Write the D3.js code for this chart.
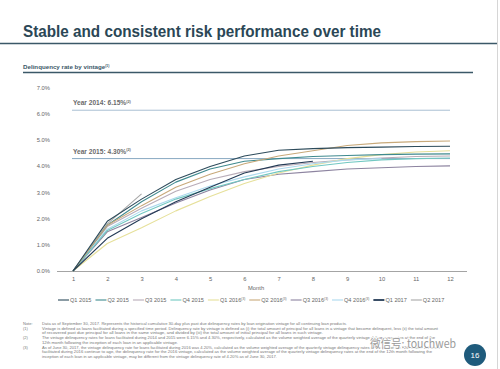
<!DOCTYPE html>
<html><head><meta charset="utf-8">
<script src="https://cdn.jsdelivr.net/npm/d3@7"></script>
<style>body{margin:0;background:#fff}svg{display:block}</style>
</head><body>
<svg id="c" width="500" height="369"></svg>
<script>
const months = [1,2,3,4,5,6,7,8,9,10,11,12];
const yTicks = [0,1,2,3,4,5,6,7];
const seriesNames = ["Q1 2015","Q2 2015","Q3 2015","Q4 2015","Q1 2016","Q2 2016","Q3 2016","Q4 2016","Q1 2017","Q2 2017"];
const seriesSup = ["","","","","(3)","(3)","(3)","(3)","",""];
const q1_2015 = [0,1.9,2.75,3.5,4.0,4.4,4.62,4.68,4.72,4.74,4.76,4.77];
const q2_2015 = [0,1.75,2.65,3.4,3.9,4.2,4.3,4.38,4.42,4.45,4.47,4.48];
const q3_2015 = [0,1.7,2.4,3.05,3.5,3.8,4.0,4.15,4.25,4.32,4.38,4.4];
const q4_2015 = [0,1.55,2.2,2.75,3.15,3.5,3.8,4.0,4.15,4.25,4.3,4.32];
const q1_2016 = [0,1.05,1.65,2.3,2.85,3.35,3.75,4.05,4.3,4.45,4.55,4.6];
const q2_2016 = [0,1.75,2.5,3.2,3.7,4.1,4.4,4.6,4.8,4.9,4.95,4.97];
const q3_2016 = [0,1.5,2.05,2.6,3.1,3.5,3.7,3.8,3.9,3.95,4.0,4.02];
const q4_2016 = [0,1.6,2.3,2.8,3.25,3.6,3.9,4.1,4.25,4.3];
const q1_2017 = [0,1.25,2.0,2.65,3.2,3.75,4.05,4.2];
const q2_2017 = [0,1.8,2.95];
const seriesValues = [q1_2015,q2_2015,q3_2015,q4_2015,q1_2016,q2_2016,q3_2016,q4_2016,q1_2017,q2_2017];
const colors = ["#2d4b5b","#3f8a8f","#b8acb8","#72c8c2","#e6e09a","#c8a97a","#8d84a0","#acd9ee","#233a55","#a8a8a8"];
const refLines = [{label:"Year 2014: 6.15%", sup:"(2)", value:6.15},{label:"Year 2015: 4.30%", sup:"(2)", value:4.30}];
const notes = [
 ["Note:", "Data as of September 30, 2017. Represents the historical cumulative 30-day plus past due delinquency rates by loan origination vintage for all continuing loan products.", 347],
 ["(1)", "Vintage is defined as loans facilitated during a specified time period. Delinquency rate by vintage is defined as (i) the total amount of principal for all loans in a vintage that become delinquent, less (ii) the total amount", 438],
 ["", "of recovered past due principal for all loans in the same vintage, and divided by (iii) the total amount of initial principal for all loans in such vintage.", 323],
 ["(2)", "The vintage delinquency rates for loans facilitated during 2014 and 2015 were 6.15% and 4.30%, respectively, calculated as the volume weighted average of the quarterly vintage delinquency rates at the end of the", 435],
 ["", "12th month following the inception of each loan in an applicable vintage.", 178],
 ["(3)", "As of June 30, 2017, the vintage delinquency rate for loans facilitated during 2016 was 4.20%, calculated as the volume weighted average of the quarterly vintage delinquency rates at the end of the 12th month. As loans", 440],
 ["", "facilitated during 2016 continue to age, the delinquency rate for the 2016 vintage, calculated as the volume weighted average of the quarterly vintage delinquency rates at the end of the 12th month following the", 432],
 ["", "inception of each loan in an applicable vintage, may be different from the vintage delinquency rate of 4.20% as of June 30, 2017.", 277]
];

const svg = d3.select("#c");
const F = "Liberation Sans, Arial, sans-serif";
const dark = "#2b4756";

// title
svg.append("text").attr("x",23).attr("y",37).attr("font-family",F).attr("font-weight","bold")
  .attr("font-size",16.5).attr("fill",dark).attr("textLength",358).attr("lengthAdjust","spacingAndGlyphs")
  .text("Stable and consistent risk performance over time");
svg.append("line").attr("x1",0).attr("x2",497).attr("y1",43.5).attr("y2",43.5).attr("stroke","#3b5868").attr("stroke-width",1.5);
svg.append("line").attr("x1",497.5).attr("x2",497.5).attr("y1",0).attr("y2",369).attr("stroke","#d6d6d6").attr("stroke-width",1);

// subtitle
const st = svg.append("text").attr("x",23).attr("y",69).attr("font-family",F).attr("font-weight","bold")
  .attr("font-size",6.2).attr("fill","#3b5868");
st.append("tspan").text("Delinquency rate by vintage");
st.append("tspan").attr("font-size",3.5).attr("dy",-2.5).text("(1)");
svg.append("line").attr("x1",23).attr("x2",473).attr("y1",72.5).attr("y2",72.5).attr("stroke","#3b5868").attr("stroke-width",1.3);

const x = d3.scaleLinear().domain([1,12]).range([73,450]);
const y = d3.scaleLinear().domain([0,7]).range([271,88]);

// y labels
svg.append("g").selectAll("text").data(yTicks).join("text")
  .attr("x",50).attr("y",d=>y(d)).attr("dy","0.35em").attr("text-anchor","end")
  .attr("font-family",F).attr("font-size",5.8).attr("fill","#666").text(d=>d.toFixed(1)+"%");

// x axis
const xAxis = d3.axisBottom(x).tickValues(months).tickSize(0).tickPadding(6).tickFormat(d3.format("d"));
const gx = svg.append("g").attr("transform","translate(0,271)").call(xAxis);
gx.select(".domain").remove();
gx.selectAll("text").attr("font-family",F).attr("font-size",5.8).attr("fill","#666");
svg.append("line").attr("x1",57).attr("x2",467).attr("y1",271.5).attr("y2",271.5).attr("stroke","#9a9a9a").attr("stroke-width",0.9);
svg.append("text").attr("x",248).attr("y",290).attr("font-family",F).attr("font-size",5.8).attr("fill","#666").text("Month");

// reference lines
refLines.forEach((r,i)=>{
  svg.append("line").attr("x1",72).attr("x2",450).attr("y1",y(r.value)).attr("y2",y(r.value))
    .attr("stroke", i===0?"#a9bfd3":"#88a9c2").attr("stroke-width",1);
  const t = svg.append("text").attr("x",73).attr("y",y(r.value)-5).attr("font-family",F).attr("font-weight","bold")
    .attr("font-size",6.6).attr("fill","#6a6a6a");
  t.append("tspan").text(r.label);
  t.append("tspan").attr("font-size",3.8).attr("dy",-2.6).text(r.sup);
});

// series lines
const line = d3.line().x((d,i)=>x(months[i])).y(d=>y(d));
const order = [9,6,2,4,7,3,1,5,8,0];
svg.append("g").selectAll("path").data(order).join("path")
  .attr("d",i=>line(seriesValues[i])).attr("fill","none")
  .attr("stroke",i=>colors[i]).attr("stroke-width",1.1).attr("stroke-linejoin","round");

// legend
let lx = 58;
const ly = 300;
seriesNames.forEach((n,i)=>{
  svg.append("line").attr("x1",lx).attr("x2",lx+11).attr("y1",ly).attr("y2",ly)
    .attr("stroke",colors[i]).attr("stroke-width", i===8?1.8:1.1);
  const t = svg.append("text").attr("x",lx+12).attr("y",ly+2).attr("font-family",F).attr("font-size",5.6).attr("fill","#666");
  t.append("tspan").text(n);
  if (seriesSup[i]) t.append("tspan").attr("font-size",3.2).attr("dy",-2.2).text(seriesSup[i]);
  const w = t.node().getComputedTextLength();
  lx += 12 + w + 4;
});

// footnotes
const ny = [325,329.5,334,339,343.5,348.5,353.3,358];
notes.forEach((n,i)=>{
  if (n[0]) svg.append("text").attr("x",23).attr("y",ny[i]).attr("font-family",F).attr("font-size",4).attr("fill","#777").text(n[0]);
  svg.append("text").attr("x",42).attr("y",ny[i]).attr("font-family",F).attr("font-size",4).attr("fill","#777")
    .attr("textLength",n[2]-42).attr("lengthAdjust","spacingAndGlyphs").text(n[1]);
});

// page number
svg.append("circle").attr("cx",475).attr("cy",355).attr("r",11).attr("fill","#1f5b7c");
svg.append("text").attr("x",475).attr("y",358).attr("text-anchor","middle").attr("font-family",F)
  .attr("font-size",8).attr("fill","#fff").text("16");

// watermark
svg.append("text").attr("x",370).attr("y",348).attr("font-family","Noto Sans CJK SC, sans-serif").attr("font-size",11.5)
  .attr("fill","#8a8a8a").attr("stroke","#fff").attr("stroke-width",2).attr("paint-order","stroke")
  .attr("opacity",0.85).attr("textLength",86).attr("lengthAdjust","spacingAndGlyphs").text("微信号: touchweb");
</script>
</body></html>
